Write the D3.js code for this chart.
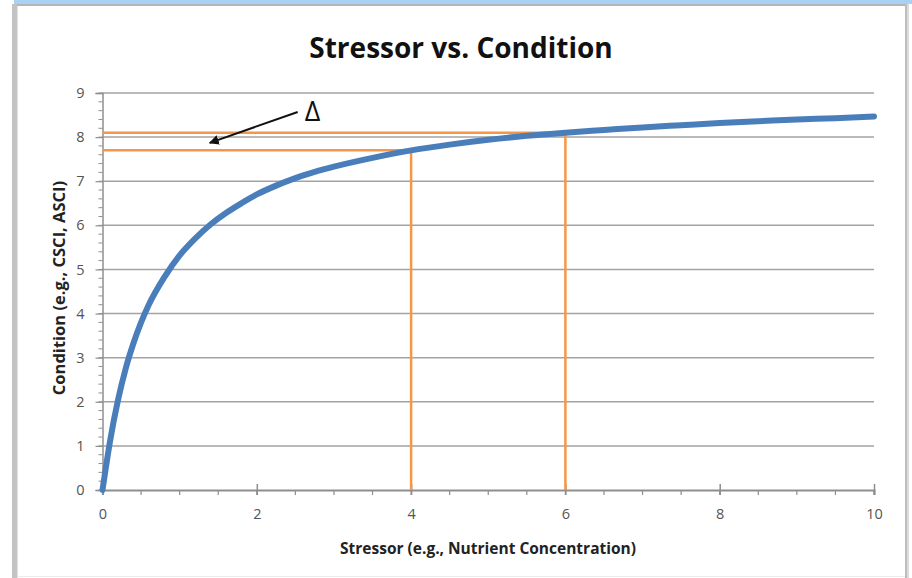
<!DOCTYPE html>
<html>
<head>
<meta charset="utf-8">
<script src="https://cdn.jsdelivr.net/npm/d3@7"></script>
<style>
  html, body { margin: 0; padding: 0; background: #fff; }
  svg { display: block; }
  text { font-family: "Open Sans", Lato, sans-serif; }
</style>
</head>
<body>
<svg id="chart" width="912" height="578"></svg>
<script>
// ---- data ----
const stressor = [0, 0.1, 0.2, 0.3, 0.4, 0.5, 0.6, 0.8, 1.0, 1.2, 1.4, 1.6, 1.8, 2.0, 2.25, 2.5, 2.75, 3.0, 3.5, 4.0, 4.5, 5.0, 5.5, 6.0, 6.5, 7.0, 7.5, 8.0, 8.5, 9.0, 9.5, 10];
const condition = [0, 1.13, 2.03, 2.75, 3.32, 3.8, 4.2, 4.82, 5.32, 5.7, 6.02, 6.28, 6.5, 6.7, 6.9, 7.07, 7.21, 7.33, 7.53, 7.7, 7.83, 7.94, 8.03, 8.1, 8.16, 8.22, 8.27, 8.32, 8.36, 8.4, 8.43, 8.47];
const xTicks = [0, 2, 4, 6, 8, 10];
const yTicks = [0, 1, 2, 3, 4, 5, 6, 7, 8, 9];
const refX = [4, 6];          // stressor levels marked
const refY = [7.7, 8.1];      // condition at those levels
const arrowFrom = [2.53, 8.57];
const arrowTo = [1.39, 7.87];
const deltaLabel = "Δ";
const title = "Stressor vs. Condition";
const xTitle = "Stressor (e.g., Nutrient Concentration)";
const yTitle = "Condition (e.g., CSCI, ASCI)";

// ---- layout ----
const svg = d3.select("#chart");
const x = d3.scaleLinear().domain([0, 10]).range([102.5, 874]);
const y = d3.scaleLinear().domain([0, 9]).range([490, 93]);

// window frame decorations
svg.append("rect").attr("x", 14).attr("y", 0).attr("width", 898).attr("height", 4).attr("fill", "#a9d1f5");
svg.append("rect").attr("x", 12).attr("y", 4).attr("width", 5).attr("height", 574).attr("fill", "#c3c3c3");
svg.append("rect").attr("x", 17).attr("y", 4).attr("width", 1).attr("height", 574).attr("fill", "#e2e2e2");
svg.append("rect").attr("x", 17).attr("y", 4).attr("width", 891).attr("height", 2).attr("fill", "#b5b5b5");
svg.append("rect").attr("x", 905).attr("y", 4).attr("width", 2).attr("height", 574).attr("fill", "#bdbdbd");
svg.append("rect").attr("x", 907).attr("y", 4).attr("width", 2).attr("height", 574).attr("fill", "#dcdcdc");
svg.append("rect").attr("x", 18).attr("y", 576).attr("width", 887).attr("height", 1).attr("fill", "#ececec");

// gridlines
svg.append("g").selectAll("line").data(yTicks.filter(d => d > 0)).join("line")
  .attr("x1", x(0)).attr("x2", x(10))
  .attr("y1", d => y(d)).attr("y2", d => y(d))
  .attr("stroke", "#a3a3a3").attr("stroke-width", 1.5);

// y axis
const yMinor = d3.range(0, 9.001, 0.2).map(v => +v.toFixed(1));
svg.append("g").selectAll("line").data(yMinor).join("line")
  .attr("x1", x(0) - 4).attr("x2", x(0))
  .attr("y1", d => y(d)).attr("y2", d => y(d))
  .attr("stroke", "#8e8e8e").attr("stroke-width", 1);
const yAxis = d3.axisLeft(y).tickValues(yTicks).tickSize(7).tickPadding(11).tickFormat(d3.format("d"));
const gy = svg.append("g").attr("transform", `translate(${x(0)},0)`).call(yAxis);
gy.select(".domain").attr("stroke", "#8e8e8e").attr("stroke-width", 1.5);
gy.selectAll(".tick line").attr("stroke", "#8e8e8e").attr("stroke-width", 1.2);
gy.selectAll(".tick text").attr("fill", "#555").attr("font-size", 14.5).attr("font-family", "'Open Sans', sans-serif");

// x axis
const xMinor = d3.range(0, 10.001, 0.5);
svg.append("g").selectAll("line").data(xMinor).join("line")
  .attr("x1", d => x(d)).attr("x2", d => x(d))
  .attr("y1", y(0)).attr("y2", y(0) + 5)
  .attr("stroke", "#8e8e8e").attr("stroke-width", 1.2);
const xAxis = d3.axisBottom(x).tickValues(xTicks).tickSize(5).tickPadding(14).tickFormat(d3.format("d"));
const gx = svg.append("g").attr("transform", `translate(0,${y(0)})`).call(xAxis);
gx.select(".domain").attr("stroke", "#8e8e8e").attr("stroke-width", 2);
gx.selectAll(".tick line").attr("y1", -6).attr("stroke", "#8e8e8e").attr("stroke-width", 1.5);
gx.selectAll(".tick text").attr("fill", "#555").attr("font-size", 14.5).attr("font-family", "'Open Sans', sans-serif");

// orange reference lines
const orange = "#f79646";
const gRef = svg.append("g").attr("stroke", orange).attr("stroke-width", 2.5).attr("fill", "none");
refY.forEach((v, i) => {
  gRef.append("line").attr("x1", x(0)).attr("x2", x(refX[i])).attr("y1", y(v)).attr("y2", y(v));
  gRef.append("line").attr("x1", x(refX[i])).attr("x2", x(refX[i])).attr("y1", y(v)).attr("y2", y(0));
});

// curve
const line = d3.line().x((d, i) => x(stressor[i])).y(d => y(d)).curve(d3.curveMonotoneX);
svg.append("path").datum(condition)
  .attr("d", line)
  .attr("fill", "none").attr("stroke", "#4a7ebb").attr("stroke-width", 6)
  .attr("stroke-linecap", "round").attr("stroke-linejoin", "round");

// arrow annotation
svg.append("defs").append("marker").attr("id", "ah")
  .attr("viewBox", "0 0 10 10").attr("refX", 9).attr("refY", 5)
  .attr("markerWidth", 5).attr("markerHeight", 5).attr("orient", "auto")
  .append("path").attr("d", "M0,0 L10,5 L0,10 Z").attr("fill", "#111");
svg.append("line")
  .attr("x1", x(arrowFrom[0])).attr("y1", y(arrowFrom[1]))
  .attr("x2", x(arrowTo[0])).attr("y2", y(arrowTo[1]))
  .attr("stroke", "#111").attr("stroke-width", 2).attr("marker-end", "url(#ah)");
svg.append("text").attr("x", x(arrowFrom[0]) + 15).attr("y", 121)
  .attr("text-anchor", "middle").attr("font-size", 27).attr("fill", "#111")
  .attr("font-family", "DejaVu Sans, sans-serif")
  .text(deltaLabel);

// titles
svg.append("text").attr("x", 461).attr("y", 58).attr("text-anchor", "middle")
  .attr("font-size", 28).attr("font-weight", "bold").attr("fill", "#111").text(title);
svg.append("text").attr("x", 488).attr("y", 554).attr("text-anchor", "middle")
  .attr("font-size", 15.5).attr("font-weight", "bold").attr("fill", "#222").text(xTitle);
svg.append("text").attr("transform", "translate(65,288) rotate(-90)").attr("text-anchor", "middle")
  .attr("font-size", 16.5).attr("font-weight", "bold").attr("fill", "#222").text(yTitle);
</script>
</body>
</html>
